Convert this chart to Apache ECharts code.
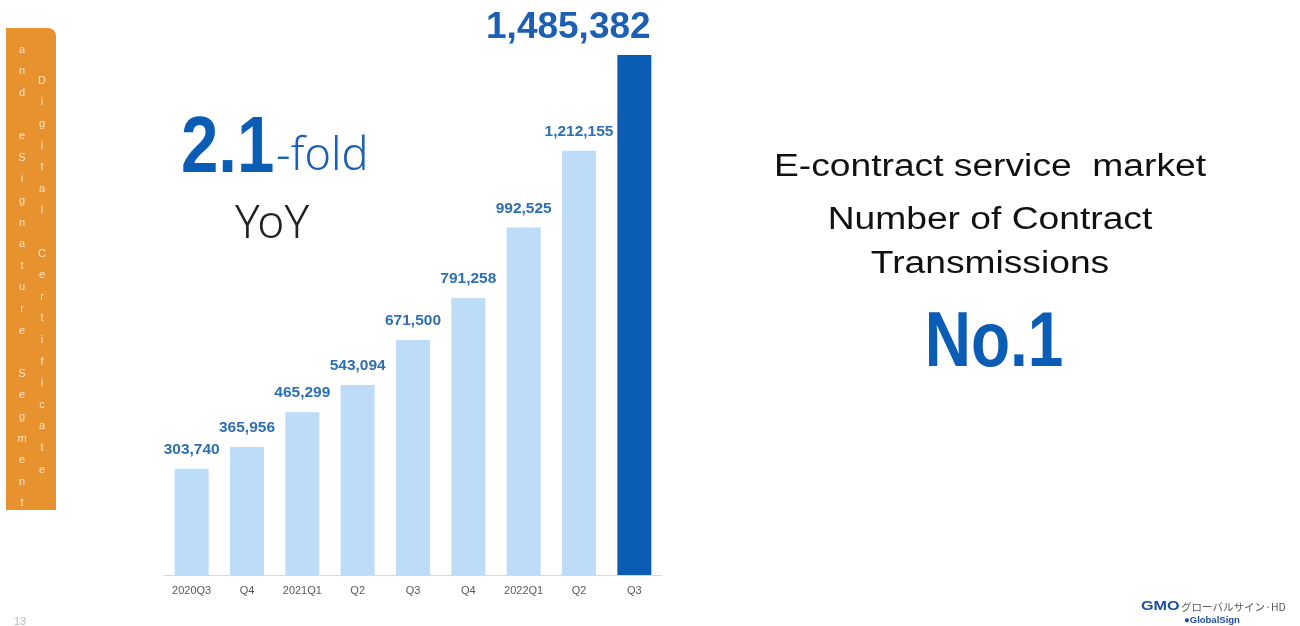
<!DOCTYPE html>
<html>
<head>
<meta charset="utf-8">
<script src="https://cdn.jsdelivr.net/npm/echarts@6/dist/echarts.min.js"></script>
<style>
  html, body { margin: 0; padding: 0; background: #ffffff; }
  #chart { width: 1300px; height: 626px; }
</style>
</head>
<body>
<div id="chart"></div>
<script>
// Quarterly number of contract transmissions
const categories = ['2020Q3', 'Q4', '2021Q1', 'Q2', 'Q3', 'Q4', '2022Q1', 'Q2', 'Q3'];
const transmissions = [303740, 365956, 465299, 543094, 671500, 791258, 992525, 1212155, 1485382];

const sideLeft = 'and eSignature Segment';
const sideRight = 'Digital Certificate';

const lightBlue = '#BDDCF8';
const strongBlue = '#0B5CB5';
const labelBlue = '#2E6FB2';

// one character per line for the vertical side tab
function stack(s) { return s.split('').map(c => c === ' ' ? '' : c).join('\n'); }

const fmt = v => v.toLocaleString('en-US');

const chart = echarts.init(document.getElementById('chart'), null, { renderer: 'canvas' });

const barData = transmissions.map((v, i) => {
  const last = i === transmissions.length - 1;
  return {
    value: v,
    itemStyle: { color: last ? strongBlue : lightBlue },
    label: last ? {
      fontSize: 37, color: '#1D5FB2', offset: [-66, 0], distance: 9
    } : undefined
  };
});

// text placed by its top edge; the baseline sits about 0.81em lower
const sans = 'Liberation Sans';

chart.setOption({
  animation: false,
  grid: { left: 164, right: 638, top: 50, bottom: 51 },
  xAxis: {
    type: 'category',
    data: categories,
    axisLine: { lineStyle: { color: '#D9D9D9', width: 1 } },
    axisTick: { show: false },
    axisLabel: { color: '#595959', fontSize: 11, margin: 10, fontFamily: sans }
  },
  yAxis: {
    type: 'value',
    min: 0,
    max: 1500000,
    show: false,
    splitLine: { show: false }
  },
  series: [{
    type: 'bar',
    data: barData,
    barWidth: 34,
    label: {
      show: true,
      position: 'top',
      distance: 11,
      formatter: p => fmt(p.value),
      color: labelBlue,
      fontSize: 15.5,
      fontWeight: 'bold',
      fontFamily: sans
    }
  }],
  graphic: [
    // orange side tab
    {
      type: 'rect', left: 6, top: 28,
      shape: { width: 50, height: 482, r: [0, 8, 0, 0] },
      style: { fill: '#E8922F' }
    },
    {
      type: 'text', x: 22, y: 39,
      style: {
        text: stack(sideLeft), fill: '#FBE3C4', fontSize: 11,
        lineHeight: 21.6, fontFamily: sans, align: 'center', verticalAlign: 'top'
      }
    },
    {
      type: 'text', x: 42, y: 70,
      style: {
        text: stack(sideRight), fill: '#FBE3C4', fontSize: 11,
        lineHeight: 21.6, fontFamily: sans, align: 'center', verticalAlign: 'top'
      }
    },
    // growth callout
    {
      type: 'text', x: 181, y: 110, scaleX: 0.84,
      style: {
        text: '2.1', fontSize: 80, fontWeight: 'bold', fill: '#0B5CB5',
        fontFamily: sans, align: 'left', verticalAlign: 'top'
      }
    },
    {
      type: 'text', x: 276, y: 135,
      style: {
        text: '-fold', fontSize: 45, fill: '#1D5FB2', fontFamily: 'Noto Sans', fontWeight: 300,
        align: 'left', verticalAlign: 'top'
      }
    },
    {
      type: 'text', x: 272, y: 202,
      style: {
        text: 'YoY', fontSize: 46, fill: '#222222', fontFamily: 'Noto Sans', fontWeight: 300,
        align: 'center', verticalAlign: 'top'
      }
    },
    // market statement
    {
      type: 'text', x: 990, y: 152, scaleX: 1.2,
      style: {
        text: 'E-contract service  market', fontSize: 31, fill: '#111111',
        align: 'center', verticalAlign: 'top', fontFamily: sans
      }
    },
    {
      type: 'text', x: 990, y: 205, scaleX: 1.2,
      style: {
        text: 'Number of Contract', fontSize: 31, fill: '#111111',
        align: 'center', verticalAlign: 'top', fontFamily: sans
      }
    },
    {
      type: 'text', x: 990, y: 249, scaleX: 1.2,
      style: {
        text: 'Transmissions', fontSize: 31, fill: '#111111',
        align: 'center', verticalAlign: 'top', fontFamily: sans
      }
    },
    {
      type: 'text', x: 994, y: 305, scaleX: 0.82,
      style: {
        text: 'No.1', fontSize: 78, fontWeight: 'bold', fill: '#0B5CB5',
        align: 'center', verticalAlign: 'top', fontFamily: sans
      }
    },
    // page number
    {
      type: 'text', x: 14, y: 616,
      style: { text: '13', fontSize: 11, fill: '#BBBBBB', fontFamily: sans, verticalAlign: 'top' }
    },
    // footer logo
    {
      type: 'text', x: 1141, y: 601, scaleX: 1.35,
      style: { text: 'GMO', fontSize: 12, fontWeight: 900, fill: '#1F4FA0', fontFamily: sans, verticalAlign: 'top' }
    },
    {
      type: 'text', x: 1181, y: 607.5,
      style: { text: 'グローバルサイン·HD', fontSize: 10.5, fill: '#5A5A5A', fontFamily: 'Noto Sans CJK JP', verticalAlign: 'middle' }
    },
    {
      type: 'text', x: 1184, y: 615,
      style: { text: '●GlobalSign', fontSize: 9.5, fontWeight: 'bold', fill: '#1F4FA0', fontFamily: sans, verticalAlign: 'top' }
    }
  ]
});
</script>
</body>
</html>
